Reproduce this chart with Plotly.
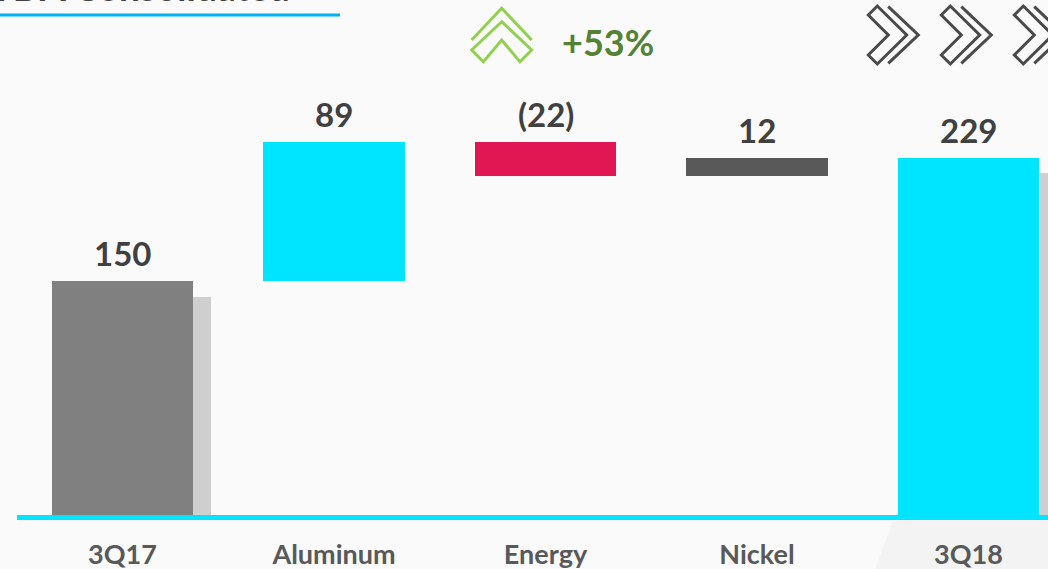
import plotly.graph_objects as go

# ---------------- data ----------------
categories = ["3Q17", "Aluminum", "Energy", "Nickel", "3Q18"]
values = [150, 89, -22, 12, 229]
measures = ["absolute", "relative", "relative", "relative", "total"]
value_labels = ["150", "89", "(22)", "12", "229"]
bar_colors = ["#808080", "#00E5FF", "#E01752", "#595959", "#00E5FF"]
shadow_categories = ["3Q17", "3Q18"]
growth_label = "+53%"
title_text = "EBITDA Consolidated"

# ---------------- waterfall geometry from values ----------------
bases, heights, tops = [], [], []
running = 0
for v, m in zip(values, measures):
    if m in ("absolute", "total"):
        base, h = 0, v
        running = v
    elif v >= 0:
        base, h = running, v
        running += v
    else:
        running += v
        base, h = running, -v
    bases.append(base)
    heights.append(h)
    tops.append(base + h)

shadow_heights = [heights[categories.index(c)] - 10 for c in shadow_categories]

# ---------------- layout constants ----------------
W, H = 1048, 569
ML, MR, MT, MB = 17, 0, 0, 54
PW, PH = W - ML - MR, H - MT - MB
BAR_W = 0.667
SHIFT = 0.085


def px(X, Y):
    return (X - ML) / PW, (H - MB - Y) / PH


def path(points, closed=False):
    s = ""
    for i, (X, Y) in enumerate(points):
        x, y = px(X, Y)
        s += ("M" if i == 0 else "L") + f"{x:.5f},{y:.5f} "
    if closed:
        s += "Z"
    return s


fig = go.Figure()

fig.add_trace(go.Bar(
    x=shadow_categories, y=shadow_heights, base=[0] * len(shadow_categories),
    width=BAR_W, offset=-BAR_W / 2 + SHIFT,
    marker=dict(color="#CFCFCF", line=dict(width=0)),
    hoverinfo="skip", showlegend=False,
))
fig.add_trace(go.Bar(
    x=categories, y=heights, base=bases,
    width=BAR_W, offset=-BAR_W / 2,
    marker=dict(color=bar_colors, line=dict(width=0)),
    showlegend=False,
))

annotations = []
for c, t, lab in zip(categories, tops, value_labels):
    annotations.append(dict(
        x=c, y=t, xref="x", yref="y", text=lab, showarrow=False,
        yanchor="middle", yshift=28,
        font=dict(family="Lato", size=33, color="#404040", weight="bold"),
    ))

tx, ty = px(292, 11)
annotations.append(dict(
    x=tx, y=ty, xref="paper", yref="paper", text=title_text, showarrow=False,
    xanchor="right", yanchor="bottom",
    font=dict(family="Lato", size=37, color="#404040", weight="bold"),
))
gx, gy = px(560, 42)
annotations.append(dict(
    x=gx, y=gy, xref="paper", yref="paper", text=growth_label, showarrow=False,
    xanchor="left", yanchor="middle",
    font=dict(family="Lato", size=36, color="#548235", weight="bold"),
))

shapes = []
# faint background panel bottom-right
shapes.append(dict(type="path", xref="paper", yref="paper", layer="below",
                   path=path([(875, 569), (1048, 569), (1048, 521), (893, 521)], True),
                   fillcolor="#F3F3F3", line=dict(width=0)))
# title underline
x0, y0 = px(0, 15)
x1, _ = px(340, 15)
shapes.append(dict(type="line", xref="paper", yref="paper", x0=x0, x1=x1, y0=y0, y1=y0,
                   line=dict(color="#00B0F0", width=3)))
# green up chevrons
shapes.append(dict(type="path", xref="paper", yref="paper",
                   path=path([(471.7, 40), (501.7, 8.3), (531.7, 40)]),
                   line=dict(color="#92D050", width=3)))
shapes.append(dict(type="path", xref="paper", yref="paper",
                   path=path([(501.7, 21.7), (531.7, 50), (520, 61.7), (501.7, 40),
                              (483.4, 61.7), (471.7, 50)], True),
                   line=dict(color="#92D050", width=3)))
# gray right chevrons
for k in range(3):
    d = 73 * k
    shapes.append(dict(type="path", xref="paper", yref="paper",
                       path=path([(868.3 + d, 15), (877.3 + d, 6), (906.7 + d, 35),
                                  (877.3 + d, 64), (868.3 + d, 55), (888.3 + d, 35)], True),
                       line=dict(color="#4A4A4A", width=3)))
    shapes.append(dict(type="path", xref="paper", yref="paper",
                       path=path([(888.3 + d, 6.7), (918.3 + d, 35), (888.3 + d, 63.3)]),
                       line=dict(color="#4A4A4A", width=3)))

x_min = (ML - 122.5) / 211.5
x_max = x_min + PW / 211.5

fig.update_layout(
    width=W, height=H,
    margin=dict(l=ML, r=MR, t=MT, b=MB, pad=0, autoexpand=False),
    paper_bgcolor="#FAFAFA", plot_bgcolor="rgba(0,0,0,0)",
    barmode="overlay", bargap=0,
    showlegend=False,
    annotations=annotations, shapes=shapes,
    xaxis=dict(type="category", categoryorder="array", categoryarray=categories,
               range=[x_min, x_max], showgrid=False, zeroline=False,
               showline=True, linecolor="#00E5FF", linewidth=5, automargin=False,
               ticks="outside", ticklen=12, tickcolor="rgba(0,0,0,0)",
               tickfont=dict(family="Lato", size=27, color="#595959", weight="bold"),
               fixedrange=True),
    yaxis=dict(range=[0, (PH) / 1.56], visible=False, showgrid=False, zeroline=False,
               automargin=False, fixedrange=True),
)

fig.write_html("out.html")
